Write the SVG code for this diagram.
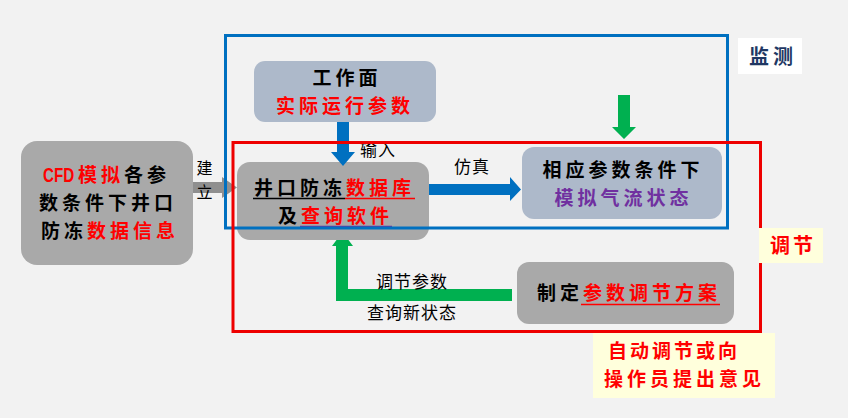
<svg xmlns="http://www.w3.org/2000/svg" width="848" height="418" viewBox="0 0 848 418">
<style>
.gbox{fill:#a9a9a9}
.bbox{fill:#adb9ca}
.big{font-family:"Noto Sans CJK SC","Noto Sans",sans-serif;font-size:19px;font-weight:bold;letter-spacing:4px}
.sm{font-family:"Noto Sans CJK SC","Noto Sans",sans-serif;font-size:17px;letter-spacing:1px;fill:#000}
.blk{fill:#000}
.red{fill:#ff0000}
.pur{fill:#7030a0}
.blue{fill:#0070c0}
.green{fill:#00b050}
</style>
<rect width="848" height="418" fill="#f2f2f2"/>

<g id="node-cfd">
<rect x="21" y="141" width="172" height="124" rx="16" class="gbox"/>
<text transform="translate(43,182) scale(0.76,1)" style="font-family:'Liberation Sans',sans-serif;font-size:20px;font-weight:bold" class="red">CFD</text>
<text x="78" y="182" class="big"><tspan class="red">模拟</tspan><tspan class="blk">各参</tspan></text>
<text x="39" y="210" class="big blk">数条件下井口</text>
<text x="41" y="238" class="big"><tspan class="blk">防冻</tspan><tspan class="red">数据信息</tspan></text>
</g>

<g id="node-db">
<rect x="237" y="162" width="192" height="78" rx="13" class="gbox"/>
<text x="254" y="195" class="big"><tspan class="blk">井口防冻</tspan><tspan class="red">数据库</tspan></text>
<line x1="253" y1="198.5" x2="345" y2="198.5" stroke="#000" stroke-width="1.5"/>
<line x1="345" y1="198.5" x2="415" y2="198.5" stroke="#ff0000" stroke-width="1.5"/>
<text x="278" y="223" class="big"><tspan class="blk">及</tspan><tspan class="red">查询软件</tspan></text>
<line x1="300" y1="226.5" x2="392" y2="226.5" stroke="#7030a0" stroke-width="1.5"/>
</g>

<g id="node-workface">
<rect x="254" y="61" width="182" height="61" rx="11" class="bbox"/>
<text x="312.5" y="85" class="big blk">工作面</text>
<text x="276" y="113" class="big red">实际运行参数</text>
</g>

<g id="node-sim">
<rect x="522" y="147" width="200" height="72" rx="12" class="bbox"/>
<text x="542.5" y="177" class="big blk">相应参数条件下</text>
<text x="554.5" y="205" class="big pur">模拟气流状态</text>
</g>

<g id="node-plan">
<rect x="517" y="262" width="217" height="62" rx="12" class="gbox"/>
<text x="537" y="300" class="big"><tspan class="blk">制定</tspan><tspan class="red">参数调节方案</tspan></text>
<line x1="581" y1="304.5" x2="720" y2="304.5" stroke="#ff0000" stroke-width="1.5"/>
</g>

<g id="connectors">
<polygon points="193,182 222,182 222,177 237,187.5 222,198 222,193 193,193" fill="#8f8f8f"/>
<polygon points="337,122 349,122 349,152 355,152 343,166 331,152 337,152" class="blue"/>
<polygon points="429,184 510,184 510,177 521,189.5 510,201 510,195 429,195" class="blue"/>
<polygon points="618,95 630,95 630,127 636,127 624,139 612,127 618,127" class="green"/>
<polygon points="512,289 348,289 348,246 353,246 348.5,240 336.5,240 332,246 336,246 336,301 512,301" class="green"/>
<text x="205" y="174" text-anchor="middle" class="sm" style="font-size:16px">建</text>
<text x="205" y="198" text-anchor="middle" class="sm" style="font-size:16px">立</text>
<text x="378" y="156" text-anchor="middle" class="sm">输入</text>
<text x="472" y="173" text-anchor="middle" class="sm">仿真</text>
<text x="412" y="288" text-anchor="middle" class="sm">调节参数</text>
<text x="412" y="319" text-anchor="middle" class="sm">查询新状态</text>
</g>

<g id="frames">
<rect x="225.5" y="35.5" width="502" height="192.5" fill="none" stroke="#0070c0" stroke-width="3"/>
<rect x="233" y="142.5" width="527.5" height="189" fill="none" stroke="#ee0000" stroke-width="3"/>
</g>

<g id="label-monitor">
<rect x="738" y="38" width="64" height="36" fill="#ffffff"/>
<text x="749" y="64" style="font-family:'Noto Sans CJK SC',sans-serif;font-size:20px;font-weight:bold;letter-spacing:4px" fill="#1f3864">监测</text>
</g>

<g id="label-adjust">
<rect x="759" y="228" width="64" height="35" fill="#ffffdc"/>
<text x="770" y="253" style="font-family:'Noto Sans CJK SC',sans-serif;font-size:20px;font-weight:bold;letter-spacing:3px" fill="#ff0000">调节</text>
</g>

<g id="label-auto">
<rect x="593" y="333" width="182" height="65" fill="#ffffdc"/>
<text x="608" y="358" class="big red" style="letter-spacing:3px">自动调节或向</text>
<text x="604" y="386" class="big red">操作员提出意见</text>
</g>
</svg>
